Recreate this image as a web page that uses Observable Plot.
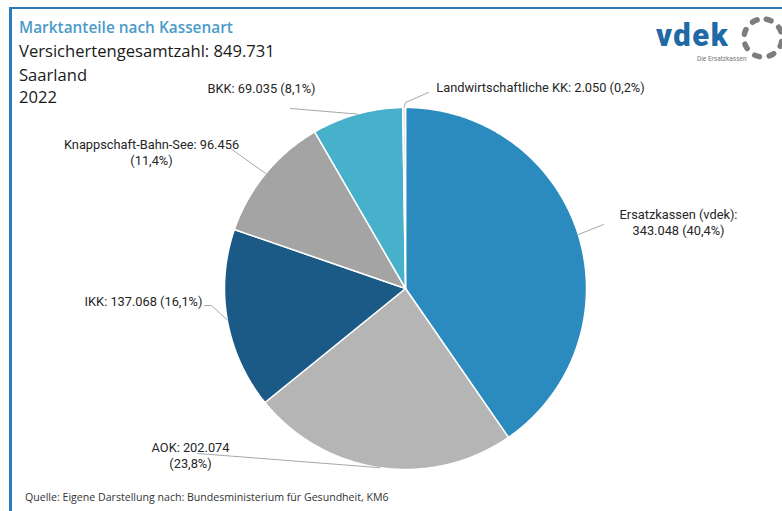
<!DOCTYPE html>
<html>
<head>
<meta charset="utf-8">
<script src="https://cdn.jsdelivr.net/npm/d3@7"></script>
<script src="https://cdn.jsdelivr.net/npm/@observablehq/plot@0.6"></script>
<style>
  body { margin: 0; background: #fff; }
  #wrap { position: relative; width: 782px; height: 511px; overflow: hidden; background: #fff; }
  #wrap > svg { position: absolute; left: 0; top: 0; }
  #overlay { pointer-events: none; }
</style>
</head>
<body>
<div id="wrap">
  <svg id="overlay" width="782" height="511" xmlns="http://www.w3.org/2000/svg">
    <rect x="9" y="7" width="773" height="2" fill="#2a7db6"></rect>
    <rect x="9" y="7" width="3" height="504" fill="#2a7db6"></rect>
    <text x="19" y="33" font-family="Open Sans" font-weight="600" font-size="15.4" fill="#4a9bc8">Marktanteile nach Kassenart</text>
    <text x="19" y="57" font-family="Open Sans" font-size="16.6" fill="#1a1a1a">Versichertengesamtzahl: 849.731</text>
    <text x="19" y="81" font-family="Open Sans" font-size="16.6" fill="#1a1a1a">Saarland</text>
    <text x="19" y="103" font-family="Open Sans" font-size="16.6" fill="#1a1a1a">2022</text>
    <text x="25" y="501" font-family="Open Sans" font-size="10.6" fill="#333">Quelle: Eigene Darstellung nach: Bundesministerium für Gesundheit, KM6</text>
    <text x="656" y="46" font-family="Roboto" font-weight="900" font-size="31" letter-spacing="1.5" fill="#1f6aa5">vdek</text>
    <text x="697" y="61" font-family="Roboto" font-size="6.5" fill="#777">Die Ersatzkassen</text>
    <circle cx="763" cy="38" r="19" fill="none" stroke="#7d7d7d" stroke-width="5.5" stroke-linecap="round" stroke-dasharray="5 9.9" transform="rotate(-80 763 38)"></circle>
  </svg>
</div>
<script>
// ---- data ----
const categories = ["Ersatzkassen (vdek)", "AOK", "IKK", "Knappschaft-Bahn-See", "BKK", "Landwirtschaftliche KK"];
const members = [343048, 202074, 137068, 96456, 69035, 2050];
const shares = [40.4, 23.8, 16.1, 11.4, 8.1, 0.2];
const colors = ["#2b8bbf", "#b5b5b5", "#1b5a86", "#a4a4a4", "#47b0cb", "#e2e2e2"];

// ---- layout ----
const cx = 405, cy = 288, R = 181;
// label centre positions and leader path ends (layout only)
const labelLayout = [
  {x: 678, y: 221, brk: "colon", leader: [[603, 224]]},
  {x: 190, y: 454, brk: "number", leader: [[197, 453]]},
  {x: 143, y: 300, brk: "none", leader: [[211, 305], [204, 305]]},
  {x: 151, y: 151, brk: "number", leader: [[230, 148]]},
  {x: 261, y: 87, brk: "none", leader: [[290, 108]]},
  {x: 540, y: 86, brk: "none", leader: [[405, 102], [428, 92]]}
];

const de = d3.formatLocale({decimal: ",", thousands: ".", grouping: [3], currency: ["", " €"]});
const fmtN = de.format(",d");
const fmtP = de.format(".1f");

const arcs = d3.pie().sort(null).value(d => d)(members);

const slicePts = [];
arcs.forEach((p, i) => {
  const name = categories[i];
  slicePts.push({name, x: cx, y: cy});
  const span = p.endAngle - p.startAngle;
  const n = Math.max(2, Math.ceil(span / (Math.PI / 360)));
  for (let k = 0; k <= n; k++) {
    const a = p.startAngle + span * k / n;
    slicePts.push({name, x: cx + R * Math.sin(a), y: cy - R * Math.cos(a)});
  }
  slicePts.push({name, x: cx, y: cy});
});

const leaderPts = [];
const labels = [];
arcs.forEach((p, i) => {
  const a = (p.startAngle + p.endAngle) / 2;
  const L = labelLayout[i];
  leaderPts.push({id: i, x: cx + R * Math.sin(a), y: cy - R * Math.cos(a)});
  L.leader.forEach(([x, y]) => leaderPts.push({id: i, x, y}));
  const n = fmtN(members[i]), s = "(" + fmtP(shares[i]) + "%)";
  let text;
  if (L.brk === "colon") text = categories[i] + ":\n" + n + " " + s;
  else if (L.brk === "number") text = categories[i] + ": " + n + "\n" + s;
  else text = categories[i] + ": " + n + " " + s;
  labels.push({x: L.x, y: L.y, text});
});

const chart = Plot.plot({
  width: 782,
  height: 511,
  margin: 0,
  x: {domain: [0, 782], range: [0, 782], axis: null},
  y: {domain: [0, 511], range: [0, 511], axis: null},
  color: {domain: categories, range: colors},
  style: {fontFamily: "Roboto", fontSize: "12px", background: "transparent", overflow: "visible"},
  marks: [
    Plot.line(slicePts, {x: "x", y: "y", z: "name", fill: "name", stroke: "white", strokeWidth: 1.5, strokeLinejoin: "round", curve: "linear"}),
    Plot.line(leaderPts, {x: "x", y: "y", z: "id", stroke: "#a8a8a8", strokeWidth: 1}),
    Plot.text(labels, {x: "x", y: "y", text: "text", textAnchor: "middle", lineHeight: 1.3, fill: "#262626", fontSize: 12.8})
  ]
});
document.getElementById("wrap").insertBefore(chart, document.getElementById("overlay"));
</script>
</body>
</html>
